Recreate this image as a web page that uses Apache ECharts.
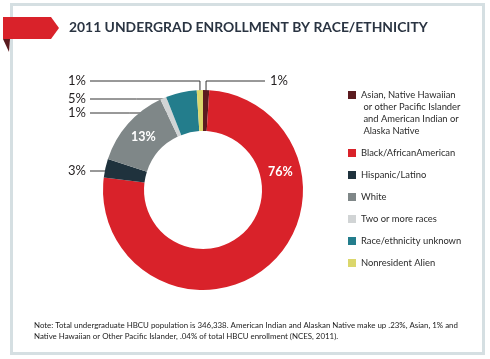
<!DOCTYPE html>
<html>
<head>
<meta charset="utf-8">
<script src="https://cdn.jsdelivr.net/npm/echarts@6/dist/echarts.min.js"></script>
<style>html,body{margin:0;padding:0;background:#fff}#c{width:490px;height:359px}</style>
</head>
<body>
<div id="c"></div>
<script>
const categories = [
  "Asian, Native Hawaiian\n or other Pacific Islander\n and American Indian or\n Alaska Native",
  "Black/AfricanAmerican",
  "Hispanic/Latino",
  "White",
  "Two or more races",
  "Race/ethnicity unknown",
  "Nonresident Alien"
];
const values = [1, 76, 3, 13, 1, 5, 1];
const colors = ["#5b1b1f", "#d9222a", "#1f323d", "#7f8788", "#d1d4d5", "#237d8c", "#dbd76c"];
const titleText = "2011 UNDERGRAD ENROLLMENT BY RACE/ETHNICITY";
const noteLines = [
  "Note: Total undergraduate HBCU population is 346,338. American Indian and Alaskan Native make up .23%, Asian, 1% and",
  "Native Hawaiian or Other Pacific Islander, .04% of total HBCU enrollment (NCES, 2011)."
];

const cx = 203, cy = 190, R = 100, r = 59;
const total = values.reduce((a, b) => a + b, 0);
let acc = 0;
const mids = values.map(v => { const s = acc; acc += v; return (s + v / 2) / total * 360; });
const rad = d => d * Math.PI / 180;
const pt = (a, rr) => [cx + rr * Math.sin(rad(a)), cy - rr * Math.cos(rad(a))];
const leftX = 86, lineStartX = 90;
const topY = 81;
const leftRows = {5: 99, 4: 113, 2: 171};

const chart = echarts.init(document.getElementById('c'), null, {renderer: 'canvas'});

chart.setOption({
  animation: false,
  color: colors,
  title: {
    text: titleText, left: 69, top: 20.5, padding: 0,
    textStyle: {fontFamily: 'Lato', fontWeight: 'bold', fontSize: 13.9, color: '#2a3442'}
  },
  legend: {
    orient: 'vertical', left: 348, top: 53, padding: 0,
    itemWidth: 8, itemHeight: 8, itemGap: 10, icon: 'rect',
    selectedMode: false,
    formatter: function (name) {
      return name.indexOf('\n') >= 0 ? '\n\n\n' + name : name;
    },
    textStyle: {fontFamily: 'Lato', fontSize: 9.4, lineHeight: 12, color: '#2b2b2b'},
    data: categories
  },
  graphic: [
    {type: 'rect', z: 0, shape: {x: 11.5, y: 4.5, width: 472, height: 349}, style: {fill: '#fff', stroke: '#d5dfe2', lineWidth: 3}},
    {type: 'polygon', z: 10, shape: {points: [[3, 17], [51, 17], [59, 28], [51, 39], [3, 39]]}, style: {fill: '#d9222a'}},
    {type: 'polygon', z: 10, shape: {points: [[3, 39], [10, 39], [9, 52]]}, style: {fill: '#5a1a1e'}},
    {type: 'text', z: 10, x: 34, y: 320, style: {text: noteLines.join('\n'), font: '7.9px Lato', lineHeight: 11, fill: '#222'}}
  ],
  series: [{
    type: 'pie',
    center: [cx, cy],
    radius: [r, R],
    startAngle: 90,
    clockwise: true,
    avoidLabelOverlap: false,
    emphasis: {disabled: true},
    itemStyle: {borderWidth: 0},
    label: {show: true, formatter: '{c}%', fontFamily: 'Lato', fontSize: 13, color: '#231f20'},
    labelLine: {show: true, lineStyle: {color: '#333', width: 1}},
    data: categories.map((n, i) => {
      const d = {name: n, value: values[i]};
      if (i === 1 || i === 3) {
        d.label = {color: '#fff', fontWeight: 'bold', fontSize: 12.5};
        d.labelLine = {show: false};
      }
      return d;
    }),
    labelLayout: function (p) {
      const i = p.dataIndex;
      const a = mids[i];
      if (i === 0) {
        const an = pt(a, R - 3);
        return {x: 270, y: topY, align: 'left', verticalAlign: 'middle',
          labelLinePoints: [an, [an[0], topY], [265, topY]]};
      }
      if (i === values.length - 1) {
        const an = pt(a, R - 3);
        return {x: leftX, y: topY, align: 'right', verticalAlign: 'middle',
          labelLinePoints: [an, [an[0], topY], [lineStartX, topY]]};
      }
      if (leftRows[i] !== undefined) {
        const Y = leftRows[i];
        const t = (cy - Y) / Math.cos(rad(a));
        const x = cx + t * Math.sin(rad(a));
        return {x: leftX, y: Y, align: 'right', verticalAlign: 'middle',
          labelLinePoints: [[x, Y], [(x + lineStartX) / 2, Y], [lineStartX, Y]]};
      }
      if (i === 1) {
        const p2 = pt(77, (R + r) / 2);
        return {x: p2[0], y: p2[1], align: 'center', verticalAlign: 'middle'};
      }
      const p3 = pt(a, (R + r) / 2);
      return {x: p3[0], y: p3[1], align: 'center', verticalAlign: 'middle'};
    }
  }]
});
</script>
</body>
</html>
